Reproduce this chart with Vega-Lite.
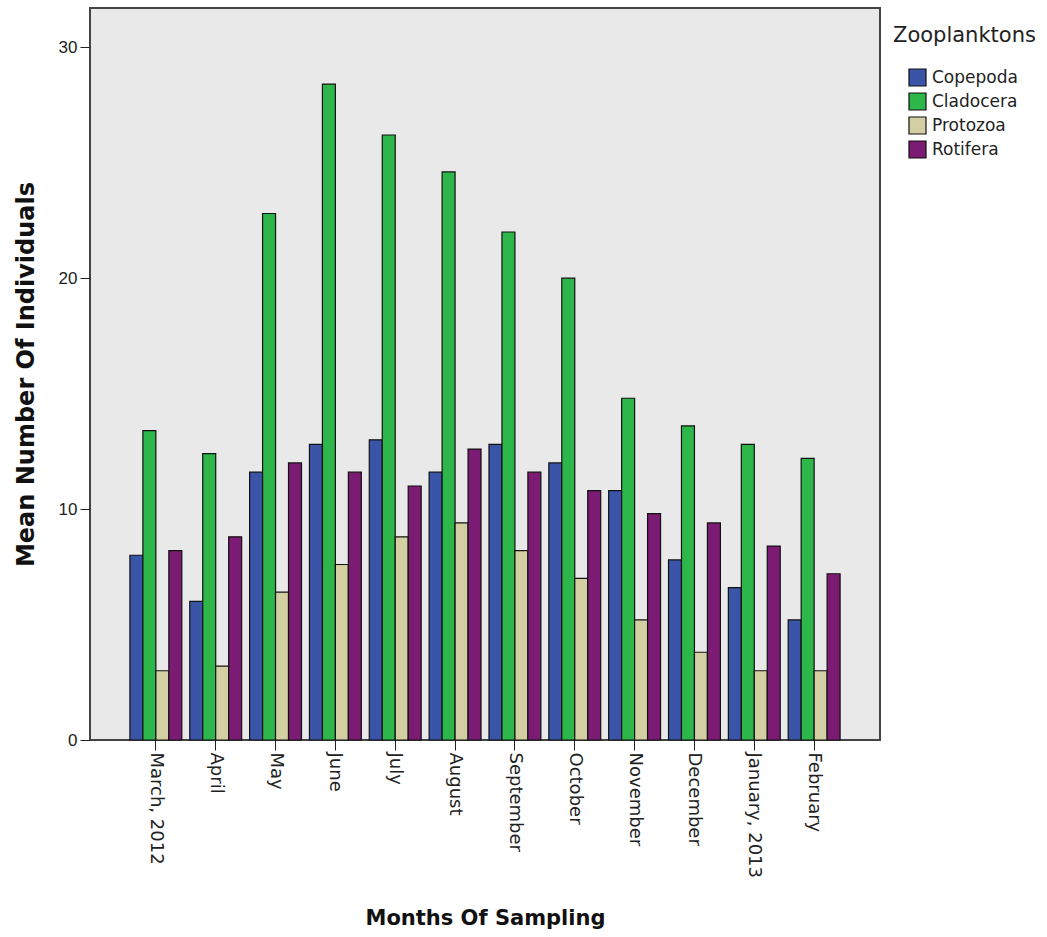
{
  "$schema": "https://vega.github.io/schema/vega-lite/v6.json",
  "width": 790,
  "height": 732,
  "autosize": "none",
  "padding": {"left": 90, "top": 8, "right": 167, "bottom": 197},
  "background": "white",
  "config": {
    "font": "Liberation Sans",
    "view": {"fill": "#E9E9E9", "stroke": "#444444", "strokeWidth": 2}
  },
  "data": {
    "values": [
      {"month": "March, 2012", "group": "Copepoda", "value": 8.0},
      {"month": "March, 2012", "group": "Cladocera", "value": 13.4},
      {"month": "March, 2012", "group": "Protozoa", "value": 3.0},
      {"month": "March, 2012", "group": "Rotifera", "value": 8.2},
      {"month": "April", "group": "Copepoda", "value": 6.0},
      {"month": "April", "group": "Cladocera", "value": 12.4},
      {"month": "April", "group": "Protozoa", "value": 3.2},
      {"month": "April", "group": "Rotifera", "value": 8.8},
      {"month": "May", "group": "Copepoda", "value": 11.6},
      {"month": "May", "group": "Cladocera", "value": 22.8},
      {"month": "May", "group": "Protozoa", "value": 6.4},
      {"month": "May", "group": "Rotifera", "value": 12.0},
      {"month": "June", "group": "Copepoda", "value": 12.8},
      {"month": "June", "group": "Cladocera", "value": 28.4},
      {"month": "June", "group": "Protozoa", "value": 7.6},
      {"month": "June", "group": "Rotifera", "value": 11.6},
      {"month": "July", "group": "Copepoda", "value": 13.0},
      {"month": "July", "group": "Cladocera", "value": 26.2},
      {"month": "July", "group": "Protozoa", "value": 8.8},
      {"month": "July", "group": "Rotifera", "value": 11.0},
      {"month": "August", "group": "Copepoda", "value": 11.6},
      {"month": "August", "group": "Cladocera", "value": 24.6},
      {"month": "August", "group": "Protozoa", "value": 9.4},
      {"month": "August", "group": "Rotifera", "value": 12.6},
      {"month": "September", "group": "Copepoda", "value": 12.8},
      {"month": "September", "group": "Cladocera", "value": 22.0},
      {"month": "September", "group": "Protozoa", "value": 8.2},
      {"month": "September", "group": "Rotifera", "value": 11.6},
      {"month": "October", "group": "Copepoda", "value": 12.0},
      {"month": "October", "group": "Cladocera", "value": 20.0},
      {"month": "October", "group": "Protozoa", "value": 7.0},
      {"month": "October", "group": "Rotifera", "value": 10.8},
      {"month": "November", "group": "Copepoda", "value": 10.8},
      {"month": "November", "group": "Cladocera", "value": 14.8},
      {"month": "November", "group": "Protozoa", "value": 5.2},
      {"month": "November", "group": "Rotifera", "value": 9.8},
      {"month": "December", "group": "Copepoda", "value": 7.8},
      {"month": "December", "group": "Cladocera", "value": 13.6},
      {"month": "December", "group": "Protozoa", "value": 3.8},
      {"month": "December", "group": "Rotifera", "value": 9.4},
      {"month": "January, 2013", "group": "Copepoda", "value": 6.6},
      {"month": "January, 2013", "group": "Cladocera", "value": 12.8},
      {"month": "January, 2013", "group": "Protozoa", "value": 3.0},
      {"month": "January, 2013", "group": "Rotifera", "value": 8.4},
      {"month": "February", "group": "Copepoda", "value": 5.2},
      {"month": "February", "group": "Cladocera", "value": 12.2},
      {"month": "February", "group": "Protozoa", "value": 3.0},
      {"month": "February", "group": "Rotifera", "value": 7.2}
    ]
  },
  "mark": {"type": "bar", "stroke": "#111111", "strokeWidth": 1.2},
  "encoding": {
    "x": {
      "field": "month",
      "type": "nominal",
      "sort": ["March, 2012", "April", "May", "June", "July", "August", "September", "October", "November", "December", "January, 2013", "February"],
      "scale": {"paddingInner": 0.133, "paddingOuter": 0.667},
      "axis": {
        "title": "Months Of Sampling",
        "titleFont": "DejaVu Sans",
        "titleFontSize": 21,
        "titleFontWeight": "bold",
        "titleColor": "#111111",
        "titlePadding": 30,
        "labelAngle": 90,
        "labelFont": "DejaVu Sans",
        "labelFontSize": 18,
        "labelColor": "#222222",
        "labelPadding": 2,
        "tickSize": 10,
        "tickColor": "#222222",
        "domain": false,
        "grid": false
      }
    },
    "xOffset": {
      "field": "group",
      "type": "nominal",
      "sort": ["Copepoda", "Cladocera", "Protozoa", "Rotifera"]
    },
    "y": {
      "field": "value",
      "type": "quantitative",
      "scale": {"domain": [0, 31.7], "nice": false},
      "axis": {
        "title": "Mean Number Of Individuals",
        "titleFont": "DejaVu Sans",
        "titleFontSize": 24,
        "titleFontWeight": "bold",
        "titleColor": "#111111",
        "titlePadding": 20,
        "values": [0, 10, 20, 30],
        "labelFontSize": 17,
        "labelColor": "#222222",
        "labelPadding": 3,
        "tickSize": 10,
        "tickColor": "#222222",
        "domain": false,
        "grid": false
      }
    },
    "color": {
      "field": "group",
      "type": "nominal",
      "sort": ["Copepoda", "Cladocera", "Protozoa", "Rotifera"],
      "scale": {
        "domain": ["Copepoda", "Cladocera", "Protozoa", "Rotifera"],
        "range": ["#3A55A8", "#2DB64A", "#D4CFA2", "#7C1B74"]
      },
      "legend": {
        "title": "Zooplanktons",
        "orient": "none",
        "legendX": 803,
        "legendY": 17,
        "titleFont": "DejaVu Sans",
        "titleFontSize": 21,
        "titleFontWeight": "normal",
        "titleColor": "#222222",
        "titlePadding": 22,
        "labelFont": "DejaVu Sans",
        "labelFontSize": 17,
        "labelColor": "#222222",
        "labelOffset": 5,
        "symbolOffset": 15,
        "symbolType": "square",
        "symbolSize": 290,
        "symbolStrokeColor": "#111111",
        "symbolStrokeWidth": 1.2,
        "rowPadding": 1,
        "offset": 0,
        "padding": 0
      }
    }
  }
}
